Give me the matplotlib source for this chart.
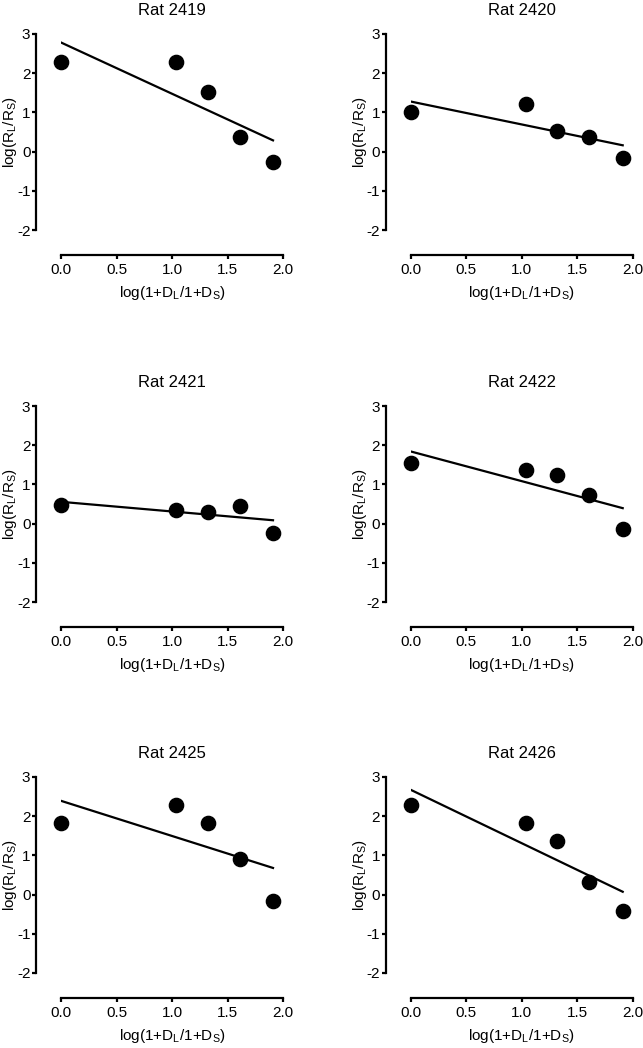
import matplotlib
matplotlib.use("Agg")
import matplotlib.pyplot as plt
import numpy as np

plt.rcParams['font.family'] = ['Liberation Sans', 'DejaVu Sans']
plt.rcParams['mathtext.default'] = 'regular'
plt.rcParams['axes.unicode_minus'] = False

rats = ["Rat 2419", "Rat 2420", "Rat 2421", "Rat 2422", "Rat 2425", "Rat 2426"]
log_d = [0.0, 1.04, 1.32, 1.61, 1.91]

rat_2419 = [2.29, 2.29, 1.53, 0.38, -0.26]
rat_2420 = [1.02, 1.21, 0.53, 0.36, -0.17]
rat_2421 = [0.47, 0.34, 0.30, 0.45, -0.23]
rat_2422 = [1.55, 1.38, 1.25, 0.72, -0.15]
rat_2425 = [1.83, 2.29, 1.83, 0.90, -0.16]
rat_2426 = [2.29, 1.83, 1.36, 0.31, -0.43]

all_rats = [rat_2419, rat_2420, rat_2421, rat_2422, rat_2425, rat_2426]

xticks = [0.0, 0.5, 1.0, 1.5, 2.0]
yticks = [-2, -1, 0, 1, 2, 3]


def main():
    fig = plt.figure(figsize=(6.43, 10.48), dpi=100)
    lefts = [61 / 643, 410.7 / 643]
    tops = [34, 406, 777]
    w = 222 / 643
    h = 196 / 1048

    for i, (name, vals) in enumerate(zip(rats, all_rats)):
        row, col = divmod(i, 2)
        bottom = 1 - (tops[row] + 196) / 1048
        ax = fig.add_axes([lefts[col], bottom, w, h])
        plot_rat(ax, name, vals)

    fig.savefig("out.png", dpi=100)


def plot_rat(ax, name, vals):
    x = np.array(log_d)
    y = np.array(vals)
    slope, intercept = np.polyfit(x, y, 1)
    xs = np.array([x.min(), x.max()])

    ax.plot(xs, intercept + slope * xs, color="black", lw=1.6, zorder=2)
    ax.scatter(x, y, s=105, color="black", zorder=3, clip_on=False)

    ax.set_xlim(0, 2.0)
    ax.set_ylim(-2, 3)
    ax.set_xticks(xticks)
    ax.set_xticklabels(["%.1f" % t for t in xticks])
    ax.set_yticks(yticks)

    for s in ["top", "right"]:
        ax.spines[s].set_visible(False)
    for s in ["left", "bottom"]:
        ax.spines[s].set_position(("outward", 18))
        ax.spines[s].set_linewidth(1.6)
    ax.tick_params(width=1.6, length=3, labelsize=11, pad=1)
    ax.tick_params(axis="x", pad=3)

    ax.set_title(name, fontsize=12, pad=14)
    ax.set_xlabel("log(1+D$_L$/1+D$_S$)", fontsize=11, labelpad=5)
    ax.set_ylabel("log(R$_L$/R$_S$)", fontsize=11, va="center")
    ax.yaxis.set_label_coords(-0.23, 0.5)


if __name__ == "__main__":
    main()
